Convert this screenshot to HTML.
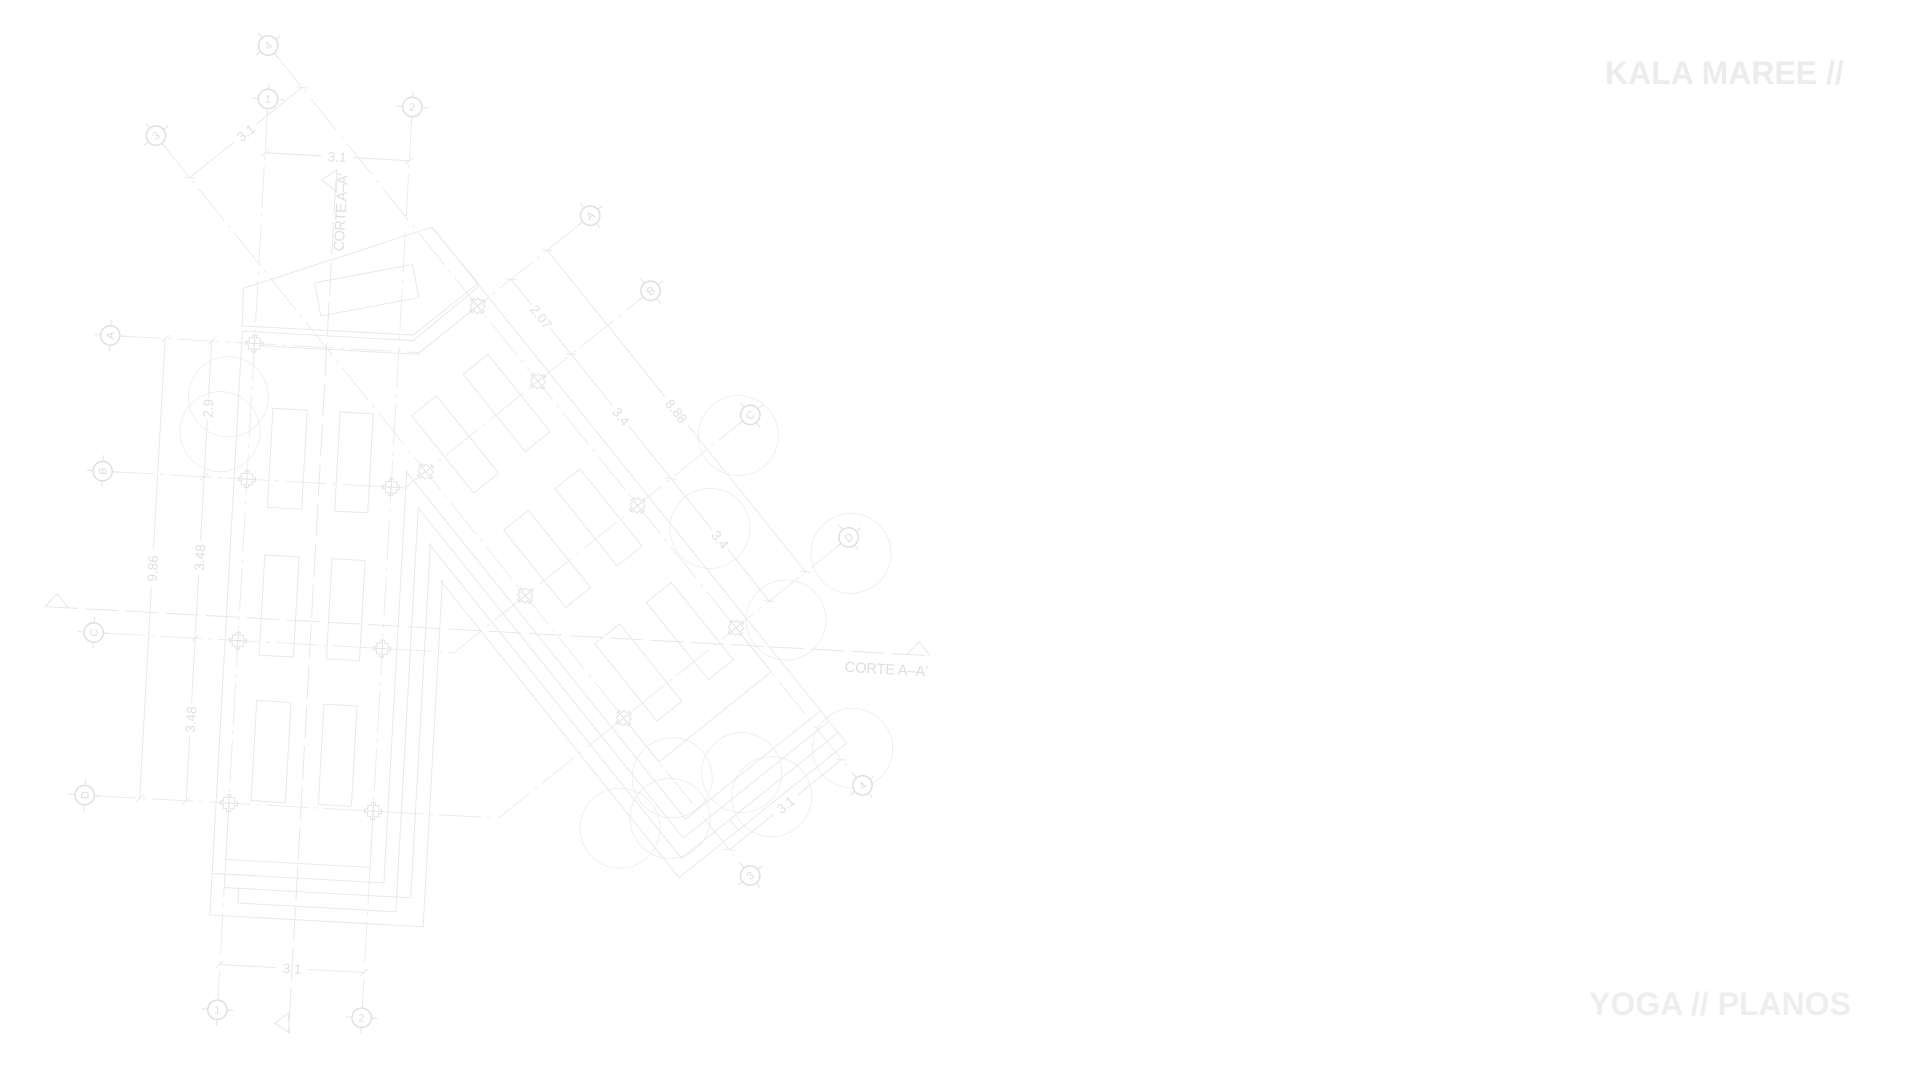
<!DOCTYPE html>
<html><head><meta charset="utf-8">
<style>
html,body{margin:0;padding:0;background:#fff;width:1920px;height:1080px;overflow:hidden;}
svg{position:absolute;left:0;top:0;}
.w{fill:none;stroke:#e7e7e7;stroke-width:.75}
.g{fill:none;stroke:#e9e9e9;stroke-width:.7;stroke-dasharray:34 5 3 5}
.s{fill:none;stroke:#e6e6e6;stroke-width:.75;stroke-dasharray:27 6}
.c{fill:none;stroke:#ededed;stroke-width:.7}
.bb circle{fill:#fff;stroke:#dfdfdf;stroke-width:1.2}
.bb path{fill:none;stroke:#e3e3e3;stroke-width:.8}
.bb text{fill:#dddddd;font-family:"Liberation Sans",sans-serif;font-size:9px;text-anchor:middle}
.mk{fill:none;stroke:#e0e0e0;stroke-width:.7}
.tx{fill:#dfdfdf;font-family:"Liberation Sans",sans-serif;font-size:11px;text-anchor:middle}
.ct{fill:#dfdfdf;font-family:"Liberation Sans",sans-serif;font-size:12px}
.tri{fill:none;stroke:#e4e4e4;stroke-width:.75}
</style></head><body>
<svg width="1920" height="1080" viewBox="0 0 1568 882">
<defs>
<path id="mk" d="M-1.5 -7H1.5V-4.5H4.5V-1.5H7V1.5H4.5V4.5H1.5V7H-1.5V4.5H-4.5V1.5H-7V-1.5H-4.5V-4.5H-1.5Z M0 -7V7M-7 0H7"/>
</defs>

<path class="g" d="M98 274.4L342.6 288L475.8 181.1M91.8 385.2L330.8 398.5L525.1 242.5M84.5 517L371 532.9L606.5 343.8M77.1 649.8L407.3 668.1L686.9 443.9"/>

<path class="w" d="M198.7 235.5L352.5 185.6L390.6 231.4L337.5 273.6L197.9 266.2Z"/>
<path class="w" d="M257 231L337 216L342 243L262 258Z"/>
<path class="w" d="M337.5 278.2L391.5 233.4M341.6 288.6L399 242.8"/>

<g class="c">
<circle cx="186.5" cy="324" r="32.7"/>
<circle cx="179.7" cy="352.5" r="32.7"/>
<circle cx="603" cy="355.8" r="32.7"/>
<circle cx="579.8" cy="431.5" r="32.7"/>
<circle cx="695" cy="451.9" r="32.7"/>
<circle cx="641.9" cy="506.3" r="32.7"/>
<circle cx="696.3" cy="611.1" r="32.7"/>
<circle cx="549" cy="635.1" r="32.7"/>
<circle cx="605.7" cy="631" r="32.7"/>
<circle cx="630.2" cy="650.6" r="32.7"/>
<circle cx="547.2" cy="668.3" r="32.7"/>
<circle cx="506.3" cy="676.4" r="32.7"/>
</g>

<g transform="translate(207.8 280.5) rotate(3.18)">
<path class="g" d="M0 -192V537M118 -192V537"/>
<path class="s" d="M59 -136V560M-159 224H565"/>
<path class="tri" d="M-159 224L-149.5 213L-140 224M546 224L555.5 213L565 224M47.4 -136.3L59.2 -145.2L60.2 -127.5ZM47.6 553.3L58 544.5L59.8 560.7Z"/>
<text class="ct" x="496" y="241" textLength="68">CORTE A–A'</text>
<text class="ct" x="68.5" y="-79" transform="rotate(-90 68.5 -79)" textLength="64">CORTE A–A'</text>
<path class="w" d="M-10.5 -9.5V468H164V184.4M-10.5 434H130V96.2M0 445H152.5V154.7M12 457H141V125.9M0 434V445M12 445V457M0 376V422H118V376M-10.5 -9.5H129.4M7 1.5H135"/>
<path class="w" d="M18 52H46V133H18ZM73 52H100V133H73ZM18 172H46V254H18ZM73 172H100V254H73ZM18 291H46V373H18ZM73 291H100V373H73Z"/>
<path class="w" d="M-73 0V172M-73 204V376M-76 3L-70 -3M-76 379L-70 373
M-35 0V46M-35 64V111M-35 111V163M-35 191V243M-35 243V296M-35 323V376
M-38 3L-32 -3M-38 114L-32 108M-38 246L-32 240M-38 379L-32 373
M0 -156H46M72 -156H118M-3 -153L3 -159M115 -153L121 -159
M0 508H46M72 508H118M-3 511L3 505M115 511L121 505"/>
<text class="tx" x="-69" y="188" transform="rotate(-90 -69 188)">9.86</text>
<text class="tx" x="-31" y="55" transform="rotate(-90 -31 55)">2.9</text>
<text class="tx" x="-31" y="177" transform="rotate(-90 -31 177)">3.48</text>
<text class="tx" x="-31" y="309.5" transform="rotate(-90 -31 309.5)">3.48</text>
<text class="tx" x="59" y="-152">3.1</text>
<text class="tx" x="59" y="512">3.1</text>
<g class="mk">
<use href="#mk" x="0" y="0"/><use href="#mk" x="0" y="111"/><use href="#mk" x="118" y="111"/>
<use href="#mk" x="0" y="243"/><use href="#mk" x="118" y="243"/><use href="#mk" x="0" y="376"/><use href="#mk" x="118" y="376"/>
</g>
<g class="bb">
<g transform="translate(-118 0)"><circle r="7.9"/><path d="M-13 0H-7.9M7.9 0H13M0 -13V-7.9M0 7.9V13"/><text transform="rotate(-90)" dy="3.2">A</text></g>
<g transform="translate(-118 111)"><circle r="7.9"/><path d="M-13 0H-7.9M7.9 0H13M0 -13V-7.9M0 7.9V13"/><text transform="rotate(-90)" dy="3.2">B</text></g>
<g transform="translate(-118 243)"><circle r="7.9"/><path d="M-13 0H-7.9M7.9 0H13M0 -13V-7.9M0 7.9V13"/><text transform="rotate(-90)" dy="3.2">C</text></g>
<g transform="translate(-118 376)"><circle r="7.9"/><path d="M-13 0H-7.9M7.9 0H13M0 -13V-7.9M0 7.9V13"/><text transform="rotate(-90)" dy="3.2">D</text></g>
<g transform="translate(0 -200)"><circle r="7.9"/><path d="M-13 0H-7.9M7.9 0H13M0 -13V-7.9M0 7.9V13"/><text dy="3.2">1</text></g>
<g transform="translate(118 -200)"><circle r="7.9"/><path d="M-13 0H-7.9M7.9 0H13M0 -13V-7.9M0 7.9V13"/><text dy="3.2">2</text></g>
<g transform="translate(0 545)"><circle r="7.9"/><path d="M-13 0H-7.9M7.9 0H13M0 -13V-7.9M0 7.9V13"/><text dy="3.2">1</text></g>
<g transform="translate(118 545)"><circle r="7.9"/><path d="M-13 0H-7.9M7.9 0H13M0 -13V-7.9M0 7.9V13"/><text dy="3.2">2</text></g>
</g>
</g>

<g transform="translate(390 250) rotate(51.23)">
<path class="g" d="M-265 0H494M-265 117.6H494"/>
<path class="w" d="M-74 -11.5H467V164H156.2M68.2 130H433V-11.5M97.5 141H444V-11.5M126.5 152.5H456V-11.5M337 0H383V117.6H337M456 102H467"/>
<path class="w" d="M36 18H117V44H36ZM36 72H117V98H36ZM156 18H237V44H156ZM156 72H237V98H156ZM275 18H356V44H275ZM275 72H356V98H275Z"/>
<path class="w" d="M0 -35H27M52 -35H133M154 -35H262M283 -35H337
M-3 -32L3 -38M75.7 -32L81.7 -38M205.7 -32L211.7 -38M334 -32L340 -38
M0 -73H154M183 -73H337M-3 -70L3 -76M334 -70L340 -76
M-229 0V47M-229 71V117.6M-232 3L-226 -3M-232 120.6L-226 114.6
M475 0V47M475 71V117.6M472 3L478 -3M472 120.6L478 114.6"/>
<text class="tx" x="39.3" y="-31">2.07</text>
<text class="tx" x="143.7" y="-31">3.4</text>
<text class="tx" x="272.8" y="-31">3.4</text>
<text class="tx" x="168.5" y="-69">8.88</text>
<text class="tx" x="-225" y="58.8" transform="rotate(-90 -225 58.8)">3.1</text>
<text class="tx" x="479" y="58.8" transform="rotate(-90 479 58.8)">3.1</text>
<g class="mk">
<use href="#mk" x="0" y="0"/><use href="#mk" x="78.7" y="0"/><use href="#mk" x="78.7" y="117.6"/>
<use href="#mk" x="208.7" y="0"/><use href="#mk" x="208.7" y="117.6"/><use href="#mk" x="337" y="0"/><use href="#mk" x="337" y="117.6"/>
</g>
<g class="bb">
<g transform="translate(0 -118)"><circle r="7.9"/><path d="M-13 0H-7.9M7.9 0H13M0 -13V-7.9M0 7.9V13"/><text transform="rotate(-90)" dy="3.2">A</text></g>
<g transform="translate(78.7 -118)"><circle r="7.9"/><path d="M-13 0H-7.9M7.9 0H13M0 -13V-7.9M0 7.9V13"/><text transform="rotate(-90)" dy="3.2">B</text></g>
<g transform="translate(208.7 -118)"><circle r="7.9"/><path d="M-13 0H-7.9M7.9 0H13M0 -13V-7.9M0 7.9V13"/><text transform="rotate(-90)" dy="3.2">C</text></g>
<g transform="translate(337 -118)"><circle r="7.9"/><path d="M-13 0H-7.9M7.9 0H13M0 -13V-7.9M0 7.9V13"/><text transform="rotate(-90)" dy="3.2">D</text></g>
<g transform="translate(-273 0)"><circle r="7.9"/><path d="M-13 0H-7.9M7.9 0H13M0 -13V-7.9M0 7.9V13"/><text transform="rotate(-90)" dy="3.2">4</text></g>
<g transform="translate(-273 117.6)"><circle r="7.9"/><path d="M-13 0H-7.9M7.9 0H13M0 -13V-7.9M0 7.9V13"/><text transform="rotate(-90)" dy="3.2">3</text></g>
<g transform="translate(502 0)"><circle r="7.9"/><path d="M-13 0H-7.9M7.9 0H13M0 -13V-7.9M0 7.9V13"/><text transform="rotate(-90)" dy="3.2">4</text></g>
<g transform="translate(502 117.6)"><circle r="7.9"/><path d="M-13 0H-7.9M7.9 0H13M0 -13V-7.9M0 7.9V13"/><text transform="rotate(-90)" dy="3.2">3</text></g>
</g>
</g>
</svg>

<svg width="1920" height="1080" viewBox="0 0 1920 1080">
<text x="1605" y="84" font-family="Liberation Sans, sans-serif" font-weight="bold" font-size="32" fill="#ececec">KALA MAREE //</text>
<text x="1589" y="1015" font-family="Liberation Sans, sans-serif" font-weight="bold" font-size="32" fill="#eeeeee">YOGA // PLANOS</text>
</svg>
</body></html>
